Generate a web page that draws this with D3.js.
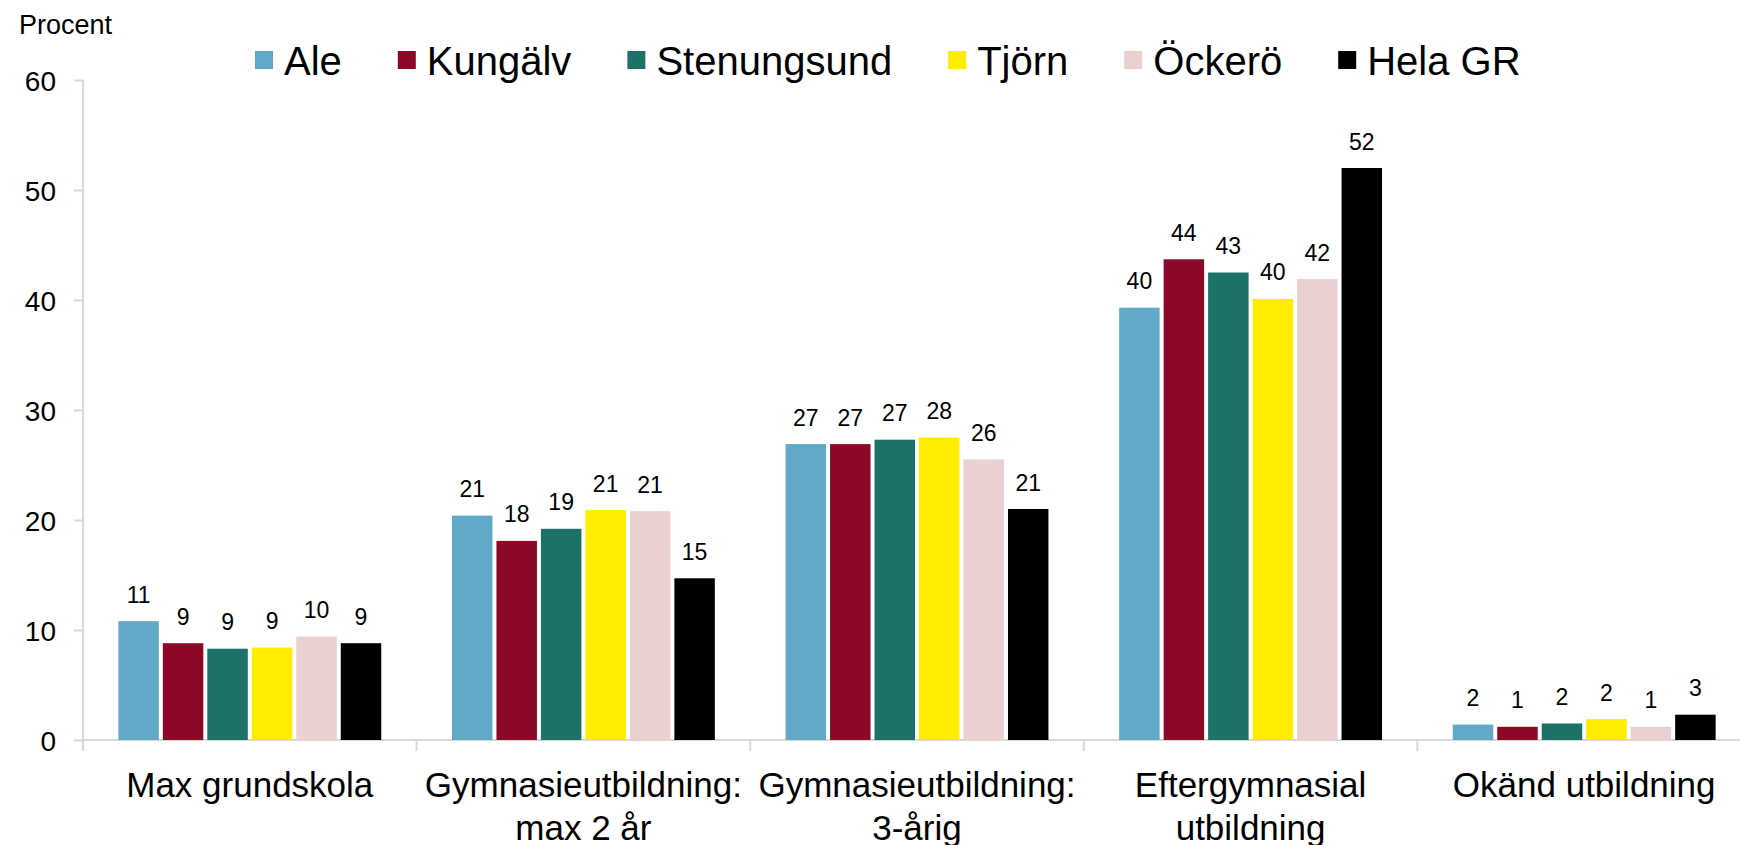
<!DOCTYPE html>
<html>
<head>
<meta charset="utf-8">
<script src="https://cdn.jsdelivr.net/npm/d3@7"></script>
<style>
  html, body { margin: 0; padding: 0; background: #fff; }
  svg { display: block; font-family: "Liberation Sans", Arial, sans-serif; }
</style>
</head>
<body>
<svg id="chart" width="1740" height="845"></svg>
<script>
// ---- Data ----
const categories = ["Max grundskola", "Gymnasieutbildning: max 2 år", "Gymnasieutbildning: 3-årig", "Eftergymnasial utbildning", "Okänd utbildning"];
const categoryLines = [["Max grundskola"], ["Gymnasieutbildning:", "max 2 år"], ["Gymnasieutbildning:", "3-årig"], ["Eftergymnasial", "utbildning"], ["Okänd utbildning"]];
const seriesNames = ["Ale", "Kungälv", "Stenungsund", "Tjörn", "Öckerö", "Hela GR"];
const seriesColors = ["#62a8c7", "#8b0826", "#1c7266", "#ffed00", "#ebd0d0", "#000000"];

const ale         = [10.8, 20.4, 26.9, 39.3, 1.4];
const kungalv     = [8.8, 18.1, 26.9, 43.7, 1.2];
const stenungsund = [8.3, 19.2, 27.3, 42.5, 1.5];
const tjorn       = [8.4, 20.9, 27.5, 40.1, 1.9];
const ockero      = [9.4, 20.8, 25.5, 41.9, 1.2];
const helaGR      = [8.8, 14.7, 21.0, 52.0, 2.3];

const aleLabels         = [11, 21, 27, 40, 2];
const kungalvLabels     = [9, 18, 27, 44, 1];
const stenungsundLabels = [9, 19, 27, 43, 2];
const tjornLabels       = [9, 21, 28, 40, 2];
const ockeroLabels      = [10, 21, 26, 42, 1];
const helaGRLabels      = [9, 15, 21, 52, 3];

const yTicks = [0, 10, 20, 30, 40, 50, 60];
const yTitle = "Procent";

const seriesValues = [ale, kungalv, stenungsund, tjorn, ockero, helaGR];
const seriesLabels = [aleLabels, kungalvLabels, stenungsundLabels, tjornLabels, ockeroLabels, helaGRLabels];

// ---- Layout ----
const svg = d3.select("#chart");
const plotLeft = 83, plotTop = 80, plotBottom = 740;
const catWidth = 333.6;

const x0 = d3.scaleBand().domain(categories).range([plotLeft, plotLeft + catWidth * categories.length]).padding(0);
const bw = x0.bandwidth();
const x1 = d3.scaleBand().domain(seriesNames).range([bw * 0.106, bw * 0.894]).paddingInner(0.09).paddingOuter(0);
const y = d3.scaleLinear().domain([0, 60]).range([plotBottom, plotTop]);

const axisColor = "#d9d9d9";

// Y axis
const yAxis = svg.append("g")
  .attr("transform", `translate(${plotLeft},0)`)
  .call(d3.axisLeft(y).tickValues(yTicks).tickSize(9).tickPadding(18).tickFormat(d3.format("d")));
yAxis.select(".domain").attr("stroke", axisColor).attr("stroke-width", 2)
  .attr("d", `M0,${plotTop}V${plotBottom + 11}`);
yAxis.selectAll(".tick line").attr("stroke", axisColor).attr("stroke-width", 2);
yAxis.selectAll(".tick text").attr("font-size", 28).attr("fill", "#000")
  .attr("font-family", "'Liberation Sans', Arial, sans-serif").attr("dy", "0.36em");

// X axis line & category separators
svg.append("line")
  .attr("x1", plotLeft).attr("x2", x0.range()[1])
  .attr("y1", plotBottom).attr("y2", plotBottom)
  .attr("stroke", axisColor).attr("stroke-width", 2);
const seps = categories.map(c => x0(c)).concat([x0.range()[1]]);
svg.selectAll("line.sep").data(seps).enter().append("line")
  .attr("class", "sep")
  .attr("x1", d => d).attr("x2", d => d)
  .attr("y1", plotBottom).attr("y2", plotBottom + 11)
  .attr("stroke", axisColor).attr("stroke-width", 2);

// Bars
const groups = svg.selectAll("g.cat").data(categories).enter().append("g")
  .attr("class", "cat")
  .attr("transform", d => `translate(${x0(d)},0)`);

groups.each(function(cat, ci) {
  const g = d3.select(this);
  const items = seriesNames.map((s, si) => ({ s, si, v: seriesValues[si][ci], lab: seriesLabels[si][ci] }));
  g.selectAll("rect").data(items).enter().append("rect")
    .attr("x", d => x1(d.s))
    .attr("width", x1.bandwidth())
    .attr("y", d => y(d.v))
    .attr("height", d => y(0) - y(d.v))
    .attr("fill", d => seriesColors[d.si]);
  g.selectAll("text.lab").data(items).enter().append("text")
    .attr("class", "lab")
    .attr("x", d => x1(d.s) + x1.bandwidth() / 2)
    .attr("y", d => y(d.v) - 18.5)
    .attr("text-anchor", "middle")
    .attr("font-size", 23)
    .attr("fill", "#000")
    .text(d => d.lab);
  const t = g.append("text")
    .attr("x", bw / 2)
    .attr("y", 797)
    .attr("text-anchor", "middle")
    .attr("font-size", 35)
    .attr("fill", "#000");
  categoryLines[ci].forEach((line, li) => {
    t.append("tspan").attr("x", bw / 2).attr("dy", li === 0 ? 0 : 43).text(line);
  });
});

// Y title
svg.append("text")
  .attr("x", 19).attr("y", 34)
  .attr("font-size", 27)
  .attr("fill", "#000")
  .text(yTitle);

// Legend
const legend = svg.append("g");
let lx = 255;
seriesNames.forEach((s, i) => {
  legend.append("rect")
    .attr("x", lx).attr("y", 51).attr("width", 18).attr("height", 18)
    .attr("fill", seriesColors[i]);
  const t = legend.append("text")
    .attr("x", lx + 29).attr("y", 75)
    .attr("font-size", 40)
    .attr("fill", "#000")
    .text(s);
  const w = t.node().getComputedTextLength();
  lx += 29 + w + 56;
});
</script>
</body>
</html>
